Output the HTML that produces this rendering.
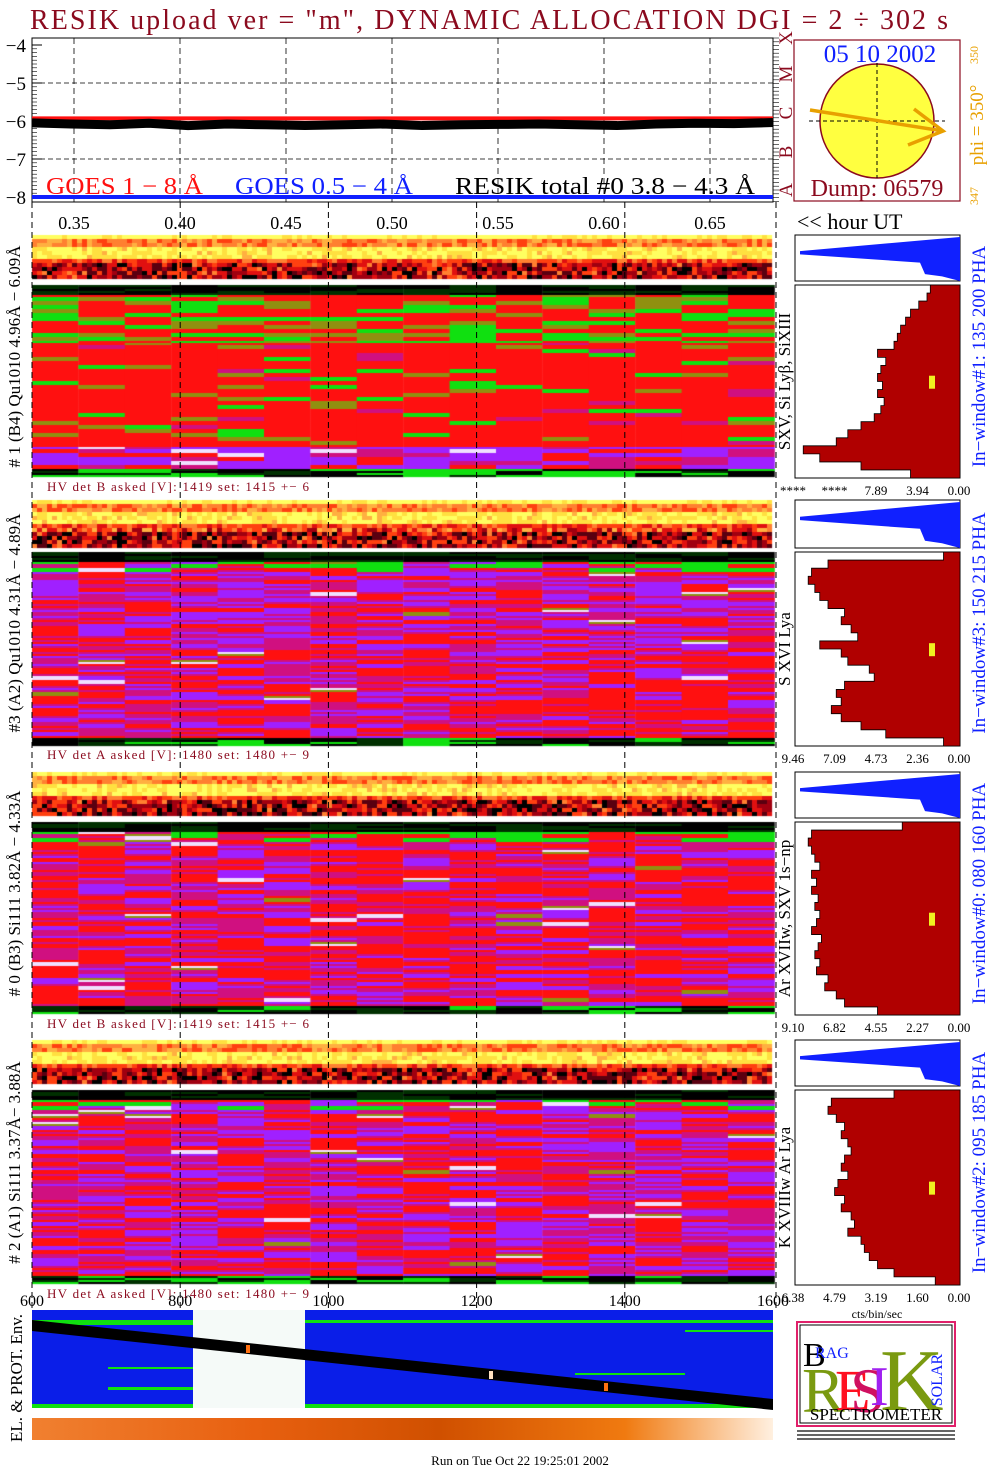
<!DOCTYPE html>
<html><head><meta charset="utf-8">
<style>
html,body{margin:0;padding:0;background:#fff;}
#root{position:relative;width:1004px;height:1476px;overflow:hidden;font-family:"Liberation Serif",serif;}
canvas{position:absolute;}
svg{position:absolute;left:0;top:0;}
</style></head>
<body>
<div id="root">
<canvas id="hm" width="1004" height="1476" style="left:0;top:0"></canvas>
<svg id="sv" width="1004" height="1476"></svg>
</div>
<script>
// ---- data ----
const hourTicks = [0.35,0.40,0.45,0.50,0.55,0.60,0.65];
const goesTicks = [-4,-5,-6,-7,-8];
const secTicks = [600,800,1000,1200,1400,1600];
const goesLong = -5.93;   // GOES 1-8 A level
const goesShort = -8.0;   // GOES 0.5-4 A level
const resikTotal = [-6.05,-6.08,-6.1,-6.06,-6.12,-6.08,-6.1,-6.12,-6.1,-6.08,-6.12,-6.1,-6.09,-6.08,-6.1,-6.12,-6.08,-6.06,-6.07,-6.04];
const hist1 = [0.18,0.2,0.25,0.3,0.33,0.36,0.38,0.4,0.5,0.45,0.48,0.5,0.47,0.5,0.46,0.48,0.52,0.6,0.68,0.75,0.95,0.85,0.6,0.3];
const hist2 = [0.1,0.8,0.9,0.92,0.88,0.85,0.8,0.7,0.72,0.66,0.62,0.85,0.72,0.68,0.55,0.52,0.7,0.75,0.72,0.78,0.72,0.6,0.45,0.1];
const hist3 = [0.35,0.9,0.92,0.9,0.88,0.85,0.9,0.87,0.9,0.86,0.88,0.85,0.87,0.9,0.84,0.86,0.88,0.85,0.87,0.8,0.82,0.75,0.7,0.5];
const hist4 = [0.4,0.78,0.8,0.75,0.7,0.72,0.68,0.66,0.7,0.72,0.68,0.74,0.76,0.7,0.72,0.66,0.64,0.68,0.6,0.58,0.55,0.5,0.4,0.15];
const histTicks = [["****","****","7.89","3.94","0.00"],["9.46","7.09","4.73","2.36","0.00"],["9.10","6.82","4.55","2.27","0.00"],["6.38","4.79","3.19","1.60","0.00"]];

const NS="http://www.w3.org/2000/svg";
const sv=document.getElementById('sv');
function el(tag,attrs,parent){const e=document.createElementNS(NS,tag);for(const k in attrs)e.setAttribute(k,attrs[k]);(parent||sv).appendChild(e);return e;}
function txt(x,y,s,size,fill,extra){const t=el('text',Object.assign({x:x,y:y,'font-size':size,fill:fill,'font-family':'Liberation Serif, serif'},extra||{}));t.textContent=s;return t;}

const X0=32,X1=773;
const hx=h=>74+(h-0.35)/0.05*106;
const gy=v=>45+(-4-v)*38;
const sx=s=>X0+(s-600)/1000*(X1-X0);

let t=txt(30,29,'RESIK upload ver = "m", DYNAMIC ALLOCATION  DGI =   2 ÷ 302 s',28,'#8b0a1e',{textLength:918,lengthAdjust:'spacing'});


// ---- GOES plot ----
let g=el('g',{});
el('rect',{x:X0,y:38,width:X1-X0,height:164,fill:'#fff',stroke:'#000','stroke-width':1},g);
hourTicks.forEach(h=>{el('line',{x1:hx(h),x2:hx(h),y1:38,y2:202,stroke:'#000','stroke-dasharray':'6,4','stroke-width':0.8},g);});
[-5,-7].forEach(v=>el('line',{x1:X0,x2:X1,y1:gy(v),y2:gy(v),stroke:'#000','stroke-dasharray':'5,3','stroke-width':0.8},g));
goesTicks.forEach(v=>{let a=txt(26,gy(v)+7,'\u2212'+Math.abs(v),19,'#000',{'text-anchor':'end'});
 el('line',{x1:X0,x2:X0+10,y1:gy(v),y2:gy(v),stroke:'#000'},g);});
for(let v=-8;v<=-4;v+=0.1){el('line',{x1:X0,x2:X0+5,y1:gy(v),y2:gy(v),stroke:'#000','stroke-width':0.6},g);}
let rl=el('line',{x1:X0,x2:X1,y1:gy(goesLong),y2:gy(goesLong),stroke:'#ff1010','stroke-width':4},g);

let bl=el('line',{x1:X0,x2:X1,y1:gy(goesShort),y2:gy(goesShort),stroke:'#1020ff','stroke-width':4},g);

let pts=resikTotal.map((v,i)=>[X0+i*(X1-X0)/(resikTotal.length-1),gy(v)]);
let rp=el('polyline',{points:pts.map(p=>p.join(',')).join(' '),fill:'none',stroke:'#000','stroke-width':9},g);

txt(46,194,'GOES 1 \u2212 8 Å',24,'#ff1010',{textLength:157,lengthAdjust:'spacingAndGlyphs'});
txt(235,194,'GOES 0.5 \u2212 4 Å',24,'#1020ff',{textLength:178,lengthAdjust:'spacingAndGlyphs'});
txt(455,194,'RESIK total #0  3.8 \u2212 4.3 Å',24,'#000',{textLength:300,lengthAdjust:'spacingAndGlyphs'});
[['X',45],['M',81],['C',120],['B',159],['A',197]].forEach(([c,y])=>txt(791,y+8,c,19,'#8b0a1e',{transform:`rotate(-90 784 ${y})`,'text-anchor':'middle'}));
for(let y=38;y<202;y+=3.8)el('line',{x1:773,x2:779,y1:y,y2:y,stroke:'#000','stroke-width':0.6});
[600,800,1000,1200,1400].forEach(s=>el('line',{x1:sx(s),x2:sx(s),y1:202,y2:1308,stroke:'#000','stroke-dasharray':'6,4','stroke-width':1}));
el('line',{x1:X1+3,x2:X1+3,y1:202,y2:1308,stroke:'#000','stroke-dasharray':'6,4','stroke-width':1});
hourTicks.forEach(h=>{let a=txt(hx(h),229,h.toFixed(2),18,'#000',{'text-anchor':'middle'});});
txt(797,229,'<< hour UT',22,'#000');

// sun panel
let sp=el('g',{});
el('rect',{x:794,y:40,width:166,height:161,fill:'#fff',stroke:'#8b0a1e','stroke-width':1.2},sp);
el('ellipse',{cx:877,cy:121,rx:57,ry:57,fill:'#ffff40',stroke:'#8b0a1e','stroke-width':1.5},sp);
el('line',{x1:877,x2:877,y1:63,y2:178,stroke:'#000','stroke-dasharray':'4,3'},sp);
el('line',{x1:809,x2:945,y1:121,y2:121,stroke:'#000','stroke-dasharray':'4,3'},sp);
el('polyline',{points:'810,110 943,131',stroke:'#e8a000','stroke-width':3.5,fill:'none'},sp);
el('polyline',{points:'914,109 943,131 908,145',stroke:'#e8a000','stroke-width':3.5,fill:'none'},sp);
txt(880,62,'05 10 2002',25,'#1020ff',{'text-anchor':'middle'});
txt(877,196,'Dump: 06579',24,'#8b0a1e',{'text-anchor':'middle'});
txt(983,125,'phi = 350°',19,'#e8a000',{transform:'rotate(-90 983 125)','text-anchor':'middle'});
txt(978,55,'350',12,'#e8a000',{transform:'rotate(-90 978 55)','text-anchor':'middle'});
txt(978,196,'347',12,'#e8a000',{transform:'rotate(-90 978 196)','text-anchor':'middle'});

// ---- heatmaps ----
const cv=document.getElementById('hm').getContext('2d');
function hsh(a,b){let h=(a*374761393+b*668265263)^0x5bd1e995;h=(h^(h>>>13))*1274126177;h^=h>>>16;return (h>>>0)/4294967295;}
const hot=['#000000','#5a0010','#a00010','#e01010','#ff4010','#ff8030','#ffb040','#ffe040','#ffff60'];
function strip(y0,y1,seed){
  const rows=Math.floor((y1-y0)/4);
  for(let r=0;r<rows;r++){const f=r/rows;
    let base=f<0.08?8:f<0.25?5:f<0.5?7.5:f<0.62?4:2.2;
    for(let c=0;c<148;c++){let v=base+(hsh(r+seed,c)-0.5)*(f>0.55?5:2.5);v=Math.max(0,Math.min(8,Math.round(v)));
      cv.fillStyle=hot[v];cv.fillRect(X0+c*5,y0+r*4,5.1,4.1);} }
}
const pal={blk:'#000',dg:'#003000',g:'#10e010',ol:'#909010',r:'#ff1010',m:'#d01080',p:'#a020ff',w:'#f0e0ff',pk:'#ff2060'};
function mainPanel(y0,y1,type,seed){
  const rows=Math.floor((y1-y0)/2);
  for(let r=0;r<rows;r++){const f=r/rows;
    for(let c=0;c<16;c++){const u=hsh(r*7+seed,c*13+seed),w=hsh(Math.floor(r/2)+seed,c);let col;
      if(f<0.05)col=u<0.6?pal.blk:pal.dg;
      else if(f>0.95)col=u<0.4?pal.blk:u<0.7?pal.dg:pal.g;
      else if(type===1){
        if(f<0.3)col=w<0.3?pal.g:w<0.55?pal.ol:pal.r;
        else if(f<0.84)col=w<0.8?pal.r:w<0.88?pal.ol:w<0.95?pal.m:pal.g;
        else col=w<0.5?pal.p:w<0.62?pal.w:w<0.8?pal.m:pal.r;
      } else {
        const pr=type===2?(f<0.5?0.6:0.35):type===3?0.3:0.5;
        if(f<0.1&&w<0.4)col=pal.g;
        else col=w<pr?(u<0.6?pal.p:pal.m):w<0.97?(u<0.3?pal.m:pal.r):(u<0.5?pal.w:pal.ol);
      }
      cv.fillStyle=col;cv.fillRect(X0+c*46.4,y0+r*2,46.8,2.1);} }
}
const panels=[
 {s0:235,s1:281,m0:285,m1:478,type:1,hist:hist1,hv:'HV det B asked [V]:  1419 set:  1415 +\u2212    6',
  left:'# 1 (B4) Qu1010 4.96Å \u2212 6.09Å',line:'SXV, Si Lyβ, SiXIII',win:'In\u2212window#1:  135 200 PHA'},
 {s0:500,s1:548,m0:552,m1:746,type:2,hist:hist2,hv:'HV det A asked [V]:  1480 set:  1480 +\u2212    9',
  left:'#3 (A2) Qu1010  4.31Å \u2212 4.89Å',line:'S XVI Lya',win:'In\u2212window#3:  150 215 PHA'},
 {s0:772,s1:818,m0:822,m1:1015,type:3,hist:hist3,hv:'HV det B asked [V]:  1419 set:  1415 +\u2212    6',
  left:'# 0 (B3) Si111  3.82Å \u2212 4.33Å',line:'Ar XVIIw,  SXV 1s\u2212np',win:'In\u2212window#0:  080 160 PHA'},
 {s0:1040,s1:1086,m0:1090,m1:1285,type:4,hist:hist4,hv:'HV det A asked [V]:  1480 set:  1480 +\u2212    9',
  left:'# 2 (A1) Si111  3.37Å\u2212 3.88Å',line:'K XVIIIw  Ar Lya',win:'In\u2212window#2:  095 185 PHA'}];
panels.forEach((p,i)=>{
  strip(p.s0,p.s1,i*101);mainPanel(p.m0,p.m1,p.type,i*53+7);
  let fr=el('rect',{x:X0,y:p.s0,width:X1-X0,height:p.m1-p.s0,fill:'none',stroke:'none'});
  
  let h=txt(47,p.m1+13,p.hv,13,'#8b0a1e',{textLength:262,lengthAdjust:'spacing'});
  let cy=(p.s0+p.m1)/2;
  txt(20,cy,p.left,17,'#000',{transform:`rotate(-90 20 ${cy})`,'text-anchor':'middle'});
  let ly=(p.m0+p.m1)/2;
  txt(790,ly,p.line,17,'#000',{transform:`rotate(-90 790 ${ly})`,'text-anchor':'middle'});
  txt(985,cy,p.win,19,'#1020ff',{transform:`rotate(-90 985 ${cy})`,'text-anchor':'middle'});
  const HX0=795,HX1=960;
  let sg=el('g',{});
  el('rect',{x:HX0,y:p.s0,width:HX1-HX0,height:p.s1-p.s0,fill:'#fff',stroke:'#000'},sg);
  const sh=p.s1-p.s0;
  el('polygon',{points:`${HX1},${p.s0+2} ${HX0+5},${p.s0+sh*0.35} ${HX0+5},${p.s0+sh*0.42} ${HX1-40},${p.s0+sh*0.6} ${HX1-35},${p.s0+sh*0.85} ${HX1-18},${p.s0+sh*0.9} ${HX1},${p.s1}`,fill:'#1020ff'},sg);
  let rg=el('g',{});
  el('rect',{x:HX0,y:p.m0,width:HX1-HX0,height:p.m1-p.m0,fill:'#fff',stroke:'#000'},rg);
  const n=p.hist.length,bh=(p.m1-p.m0)/n;
  let poly=[[HX1,p.m0]];
  p.hist.forEach((v,k)=>{const x=HX1-v*(HX1-HX0);poly.push([x,p.m0+k*bh]);poly.push([x,p.m0+(k+1)*bh]);});
  poly.push([HX1,p.m1]);
  let pg=el('polygon',{points:poly.map(q=>q.join(',')).join(' '),fill:'#b00000',stroke:'#000','stroke-width':0.8},rg);
  
  el('rect',{x:929,y:p.m0+(p.m1-p.m0)*0.47,width:6,height:13,fill:'#f0f020'},rg);
  histTicks[i].forEach((s,k)=>txt(793+k*41.5,p.m1+17,s,13,'#000',{'text-anchor':'middle'}));
});
txt(877,1318,'cts/bin/sec',12,'#000',{'text-anchor':'middle'});

// ---- bottom env ----
secTicks.forEach(s=>{let a=txt(sx(s),1306,String(s),16,'#000',{'text-anchor':'middle'});});
let env=el('g',{});
el('rect',{x:X0,y:1310,width:X1-X0,height:98,fill:'#0a1ee8'},env);
el('rect',{x:193,y:1310,width:112,height:98,fill:'#f5faf8'},env);
el('rect',{x:X0,y:1320,width:161,height:5,fill:'#10e010'},env);
el('rect',{x:305,y:1320,width:468,height:3,fill:'#10e010'},env);
el('rect',{x:X0,y:1404,width:161,height:4,fill:'#10e010'},env);
el('rect',{x:305,y:1404,width:468,height:4,fill:'#10e010'},env);
el('rect',{x:108,y:1367,width:85,height:2,fill:'#10e010'},env);
el('rect',{x:108,y:1387,width:85,height:3,fill:'#10e010'},env);
el('rect',{x:575,y:1373,width:110,height:2,fill:'#10e010'},env);
el('rect',{x:685,y:1330,width:88,height:2,fill:'#10e010'},env);
el('polygon',{points:`${X0},1320 ${X1},1399 ${X1},1410 ${X0},1331`,fill:'#000'},env);
el('rect',{x:246,y:1345,width:4,height:8,fill:'#ff7010'},env);
el('rect',{x:489,y:1371,width:4,height:8,fill:'#ffe0c0'},env);
el('rect',{x:604,y:1383,width:4,height:8,fill:'#ff7010'},env);
txt(22,1378,'EL. & PROT. Env.',17,'#000',{transform:'rotate(-90 22 1378)','text-anchor':'middle'});
const lg=el('linearGradient',{id:'og',x1:0,x2:1,y1:0,y2:0});
[[0,'#f08030'],[0.3,'#e86010'],[0.55,'#d05000'],[0.8,'#f07a10'],[1,'#fff0e0']].forEach(([o,c])=>el('stop',{offset:o,'stop-color':c},lg));
let os=el('rect',{x:X0,y:1418,width:X1-X0,height:22,fill:'url(#og)'});

// logo
let lo=el('g',{});
el('rect',{x:797,y:1322,width:158,height:104,fill:'#fff',stroke:'#e0206a','stroke-width':2},lo);
el('rect',{x:800,y:1325,width:152,height:98,fill:'none',stroke:'#000','stroke-width':1},lo);
txt(803,1366,'B',34,'#000');
txt(815,1358,'RAG',16,'#1020ff');
txt(802,1412,'R',64,'#7a9a10');
txt(835,1410,'E',58,'#ff1020');
txt(850,1412,'S',64,'#d01060');
txt(870,1405,'I',56,'#a020f0');
txt(880,1410,'K',88,'#7a9a10');
txt(942,1380,'SOLAR',16,'#1020ff',{transform:'rotate(-90 942 1380)','text-anchor':'middle'});
txt(876,1420,'SPECTROMETER',17,'#000',{'text-anchor':'middle'});
for(let k=0;k<3;k++)el('rect',{x:797,y:1430+k*4,width:158,height:2,fill:'#000',opacity:0.6},lo);

let fo=txt(520,1465,'Run on Tue Oct 22 19:25:01 2002',13,'#000',{'text-anchor':'middle'});

</script>
</body></html>
